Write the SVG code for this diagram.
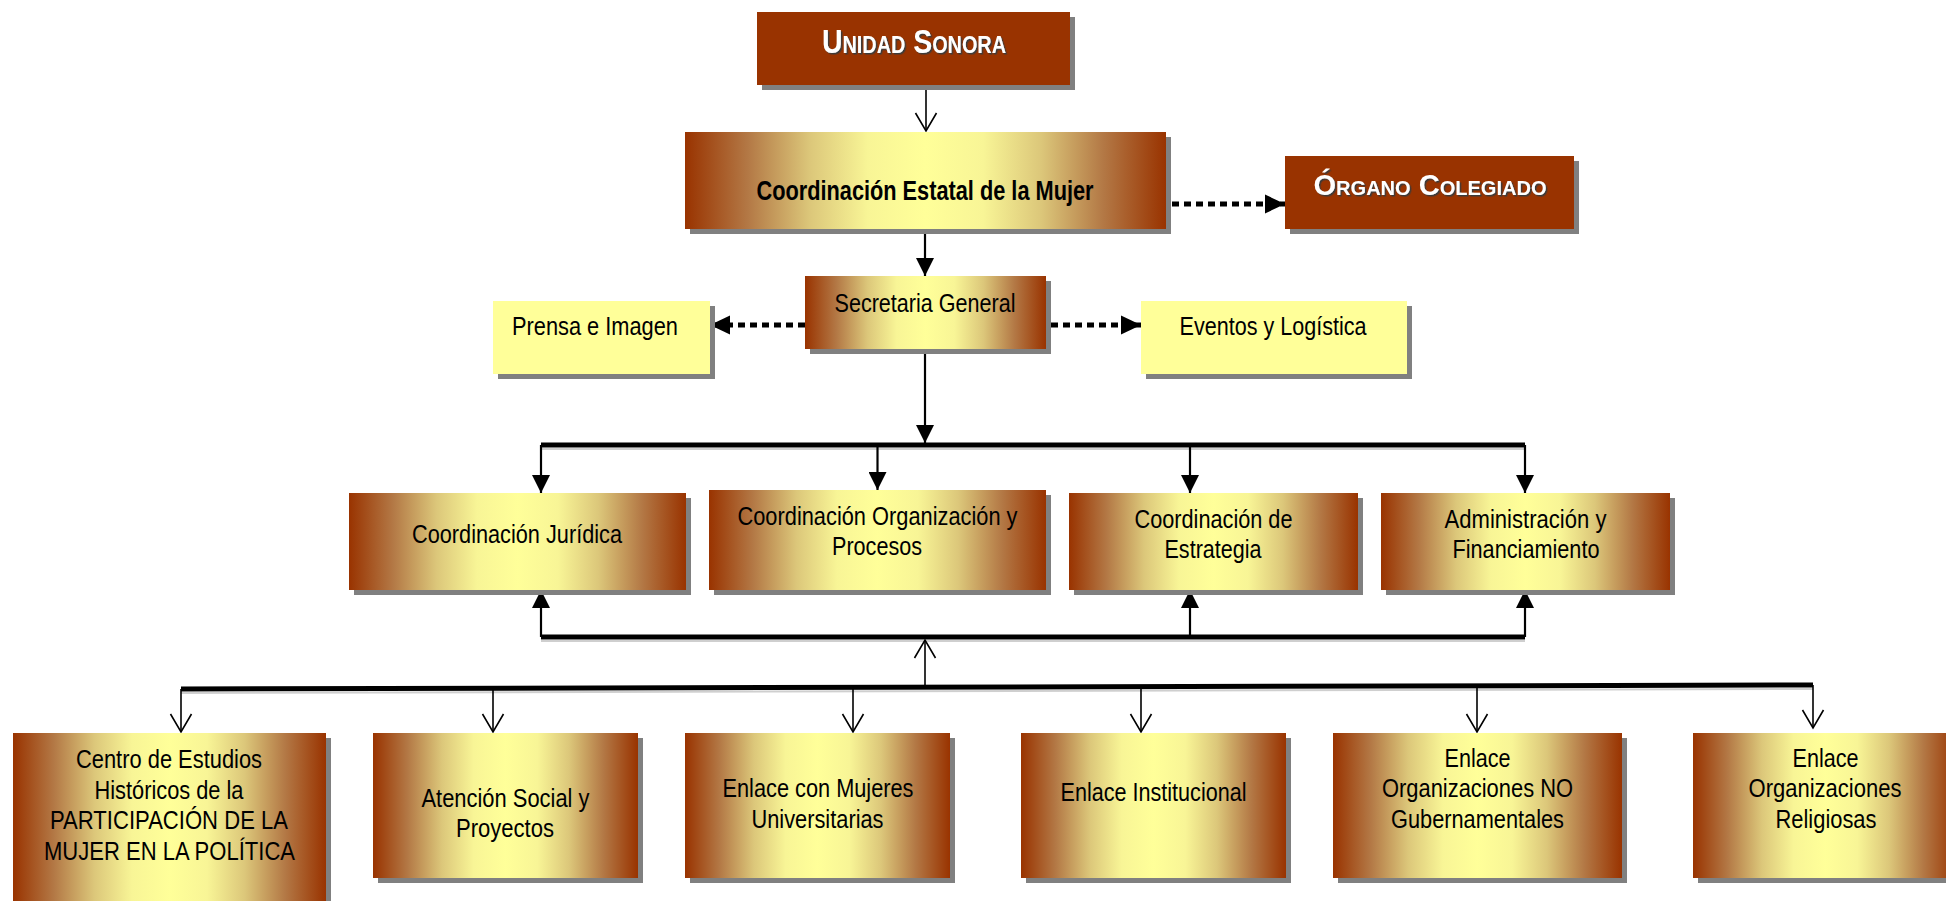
<svg xmlns="http://www.w3.org/2000/svg" width="1946" height="901" viewBox="0 0 1946 901">
<defs>
<linearGradient id="gold" x1="0" y1="0" x2="1" y2="0">
<stop offset="0" stop-color="#993300"/>
<stop offset="0.13" stop-color="#B37845"/>
<stop offset="0.26" stop-color="#DCC77A"/>
<stop offset="0.38" stop-color="#F8F596"/>
<stop offset="0.5" stop-color="#FFFF99"/>
<stop offset="0.62" stop-color="#F8F596"/>
<stop offset="0.74" stop-color="#DCC77A"/>
<stop offset="0.87" stop-color="#B37845"/>
<stop offset="1" stop-color="#993300"/>
</linearGradient>
<filter id="tsh" x="-10%" y="-30%" width="120%" height="160%">
<feDropShadow dx="1.5" dy="1.5" stdDeviation="0.4" flood-color="#3a3a3a" flood-opacity="1"/>
</filter>
<marker id="fa" markerUnits="userSpaceOnUse" markerWidth="18" markerHeight="18" refX="16" refY="8" orient="auto" viewBox="0 0 16 16">
<path d="M0,0 L16,8 L0,16 z" fill="#000"/>
</marker>
<marker id="fd" markerUnits="userSpaceOnUse" markerWidth="20" markerHeight="20" refX="18" refY="8.5" orient="auto" viewBox="0 0 18 17">
<path d="M0,0 L18,8.5 L0,17 z" fill="#000"/>
</marker>
<marker id="oa" markerUnits="userSpaceOnUse" markerWidth="22" markerHeight="24" refX="18" refY="11" orient="auto" viewBox="-1 -1 20 24">
<path d="M0,0.5 L18,11 L0,21.5" fill="none" stroke="#000" stroke-width="1.6"/>
</marker>
</defs>
<style>
.sh{fill:#808080}
.g{fill:url(#gold)}
.rust{fill:#993300}
.yl{fill:#FFFF99}
.t{font-family:"Liberation Sans Narrow","Liberation Sans",Arial,sans-serif;font-size:25px;fill:#000;text-anchor:middle}
.tb{font-family:"Liberation Sans Narrow","Liberation Sans",Arial,sans-serif;font-size:28px;font-weight:bold;fill:#000;text-anchor:middle}
.w{font-family:"Liberation Sans Narrow","Liberation Sans",Arial,sans-serif;font-weight:bold;font-variant:small-caps;fill:#fff;text-anchor:middle;filter:url(#tsh)}
.ln{stroke:#000;stroke-width:2.2;fill:none}
.lo{stroke:#000;stroke-width:1.6;fill:none}
.bus{stroke:#000;stroke-width:5;fill:none}
.bsh{stroke:#cfcfcf;stroke-width:2;fill:none}
.dot{stroke:#000;stroke-width:5;stroke-dasharray:7 5;fill:none}
</style>

<g id="connectors">
<line class="lo" x1="926" y1="85" x2="926" y2="131" marker-end="url(#oa)"/>
<line class="dot" x1="1172" y1="204" x2="1285" y2="204" marker-end="url(#fd)"/>
<line class="ln" x1="925" y1="229" x2="925" y2="276" marker-end="url(#fa)"/>
<line class="dot" x1="805" y1="325" x2="710" y2="325" marker-end="url(#fd)"/>
<line class="dot" x1="1051" y1="325" x2="1141" y2="325" marker-end="url(#fd)"/>
<line class="ln" x1="925" y1="349" x2="925" y2="443" marker-end="url(#fa)"/>
<line class="bsh" x1="541" y1="449" x2="1525" y2="449"/>
<line class="bus" x1="541" y1="445" x2="1525" y2="445"/>
<line class="ln" x1="541" y1="445" x2="541" y2="493" marker-end="url(#fa)"/>
<line class="ln" x1="877.5" y1="445" x2="877.5" y2="490" marker-end="url(#fa)"/>
<line class="ln" x1="1190" y1="445" x2="1190" y2="493" marker-end="url(#fa)"/>
<line class="ln" x1="1525" y1="445" x2="1525" y2="493" marker-end="url(#fa)"/>
<line class="bsh" x1="541" y1="641" x2="1525" y2="641"/>
<line class="bus" x1="541" y1="637" x2="1525" y2="637"/>
<line class="ln" x1="541" y1="637" x2="541" y2="590" marker-end="url(#fa)"/>
<line class="ln" x1="1190" y1="637" x2="1190" y2="590" marker-end="url(#fa)"/>
<line class="ln" x1="1525" y1="637" x2="1525" y2="590" marker-end="url(#fa)"/>
<line class="lo" x1="925" y1="688" x2="925" y2="640" marker-end="url(#oa)"/>
<line class="bsh" x1="181" y1="693" x2="1813" y2="689"/>
<line class="bus" x1="181" y1="689" x2="1813" y2="685"/>
<line class="lo" x1="181" y1="689" x2="181" y2="732" marker-end="url(#oa)"/>
<line class="lo" x1="493" y1="688" x2="493" y2="732" marker-end="url(#oa)"/>
<line class="lo" x1="853" y1="687" x2="853" y2="732" marker-end="url(#oa)"/>
<line class="lo" x1="1141" y1="687" x2="1141" y2="732" marker-end="url(#oa)"/>
<line class="lo" x1="1477" y1="686" x2="1477" y2="732" marker-end="url(#oa)"/>
<line class="lo" x1="1813" y1="685" x2="1813" y2="728" marker-end="url(#oa)"/>
</g>

<g id="unidad-sonora">
<rect class="sh" x="762" y="17" width="313" height="73"/>
<rect class="rust" x="757" y="12" width="313" height="73"/>
<text class="w" x="914" y="53" font-size="33" textLength="184" lengthAdjust="spacingAndGlyphs">Unidad Sonora</text>
</g>

<g id="coordinacion-estatal">
<rect class="sh" x="690" y="137" width="481" height="97"/>
<rect class="g" x="685" y="132" width="481" height="97"/>
<text class="tb" x="925" y="200" textLength="337" lengthAdjust="spacingAndGlyphs">Coordinación Estatal de la Mujer</text>
</g>

<g id="organo-colegiado">
<rect class="sh" x="1290" y="161" width="289" height="73"/>
<rect class="rust" x="1285" y="156" width="289" height="73"/>
<text class="w" x="1430" y="195" font-size="29" textLength="233" lengthAdjust="spacingAndGlyphs">Órgano Colegiado</text>
</g>

<g id="secretaria-general">
<rect class="sh" x="810" y="281" width="241" height="73"/>
<rect class="g" x="805" y="276" width="241" height="73"/>
<text class="t" x="925" y="312" textLength="181" lengthAdjust="spacingAndGlyphs">Secretaria General</text>
</g>

<g id="prensa-imagen">
<rect class="sh" x="498" y="306" width="217" height="73"/>
<rect class="yl" x="493" y="301" width="217" height="73"/>
<text class="t" x="595" y="335" textLength="166" lengthAdjust="spacingAndGlyphs">Prensa e Imagen</text>
</g>

<g id="eventos-logistica">
<rect class="sh" x="1146" y="306" width="266" height="73"/>
<rect class="yl" x="1141" y="301" width="266" height="73"/>
<text class="t" x="1273" y="335" textLength="187" lengthAdjust="spacingAndGlyphs">Eventos y Logística</text>
</g>

<g id="coord-juridica">
<rect class="sh" x="354" y="498" width="337" height="97"/>
<rect class="g" x="349" y="493" width="337" height="97"/>
<text class="t" x="517" y="543" textLength="210" lengthAdjust="spacingAndGlyphs">Coordinación Jurídica</text>
</g>

<g id="coord-organizacion">
<rect class="sh" x="714" y="495" width="337" height="100"/>
<rect class="g" x="709" y="490" width="337" height="100"/>
<text class="t" x="877.5" y="525" textLength="280" lengthAdjust="spacingAndGlyphs">Coordinación Organización y</text>
<text class="t" x="877" y="555" textLength="90" lengthAdjust="spacingAndGlyphs">Procesos</text>
</g>

<g id="coord-estrategia">
<rect class="sh" x="1074" y="498" width="289" height="97"/>
<rect class="g" x="1069" y="493" width="289" height="97"/>
<text class="t" x="1213.5" y="528" textLength="158" lengthAdjust="spacingAndGlyphs">Coordinación de</text>
<text class="t" x="1213" y="558" textLength="97" lengthAdjust="spacingAndGlyphs">Estrategia</text>
</g>

<g id="administracion">
<rect class="sh" x="1386" y="498" width="289" height="97"/>
<rect class="g" x="1381" y="493" width="289" height="97"/>
<text class="t" x="1525.5" y="528" textLength="162" lengthAdjust="spacingAndGlyphs">Administración y</text>
<text class="t" x="1526" y="558" textLength="147" lengthAdjust="spacingAndGlyphs">Financiamiento</text>
</g>

<g id="centro-estudios">
<rect class="sh" x="18" y="738" width="313" height="180"/>
<rect class="g" x="13" y="733" width="313" height="180"/>
<text class="t" x="169" y="768" textLength="186" lengthAdjust="spacingAndGlyphs">Centro de Estudios</text>
<text class="t" x="169" y="798.5" textLength="149" lengthAdjust="spacingAndGlyphs">Históricos de la</text>
<text class="t" x="169" y="829" textLength="238" lengthAdjust="spacingAndGlyphs">PARTICIPACIÓN DE LA</text>
<text class="t" x="169.5" y="860" textLength="251" lengthAdjust="spacingAndGlyphs">MUJER EN LA POLÍTICA</text>
</g>

<g id="atencion-social">
<rect class="sh" x="378" y="738" width="265" height="145"/>
<rect class="g" x="373" y="733" width="265" height="145"/>
<text class="t" x="505.5" y="807" textLength="168" lengthAdjust="spacingAndGlyphs">Atención Social y</text>
<text class="t" x="505" y="837" textLength="98" lengthAdjust="spacingAndGlyphs">Proyectos</text>
</g>

<g id="enlace-mujeres">
<rect class="sh" x="690" y="738" width="265" height="145"/>
<rect class="g" x="685" y="733" width="265" height="145"/>
<text class="t" x="818" y="797" textLength="191" lengthAdjust="spacingAndGlyphs">Enlace con Mujeres</text>
<text class="t" x="817.5" y="828" textLength="132" lengthAdjust="spacingAndGlyphs">Universitarias</text>
</g>

<g id="enlace-institucional">
<rect class="sh" x="1026" y="738" width="265" height="145"/>
<rect class="g" x="1021" y="733" width="265" height="145"/>
<text class="t" x="1153.5" y="800.5" textLength="186" lengthAdjust="spacingAndGlyphs">Enlace Institucional</text>
</g>

<g id="enlace-ong">
<rect class="sh" x="1338" y="738" width="289" height="145"/>
<rect class="g" x="1333" y="733" width="289" height="145"/>
<text class="t" x="1477.5" y="767" textLength="66" lengthAdjust="spacingAndGlyphs">Enlace</text>
<text class="t" x="1477.5" y="797" textLength="191" lengthAdjust="spacingAndGlyphs">Organizaciones NO</text>
<text class="t" x="1477.5" y="828" textLength="173" lengthAdjust="spacingAndGlyphs">Gubernamentales</text>
</g>

<g id="enlace-religiosas">
<rect class="sh" x="1698" y="738" width="265" height="145"/>
<rect class="g" x="1693" y="733" width="265" height="145"/>
<text class="t" x="1825.5" y="767" textLength="66" lengthAdjust="spacingAndGlyphs">Enlace</text>
<text class="t" x="1825" y="797" textLength="153" lengthAdjust="spacingAndGlyphs">Organizaciones</text>
<text class="t" x="1826" y="828" textLength="101" lengthAdjust="spacingAndGlyphs">Religiosas</text>
</g>
</svg>
